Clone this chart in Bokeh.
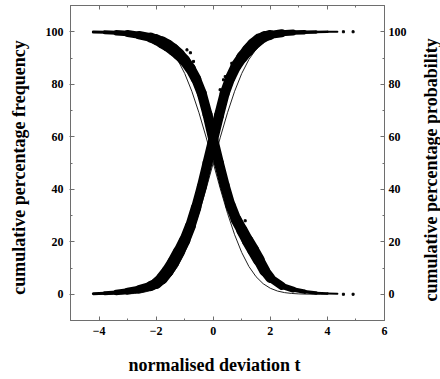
import math
from bokeh.plotting import figure
from bokeh.layouts import row
from bokeh.models import LinearAxis, FixedTicker, Range1d, Title, ColumnDataSource
from bokeh.core.properties import value
from bokeh.embed import file_html
from bokeh.resources import INLINE

# ---- data ----
x_ticks = [-4, -2, 0, 2, 4, 6]
x_minor = [-5, -3, -1, 1, 3, 5]
y_ticks = [0, 20, 40, 60, 80, 100]
y_minor = [10, 30, 50, 70, 90]

# theoretical (normal) cumulative curves, thin lines
theory_x = [-4.0, -3.75, -3.5, -3.25, -3.0, -2.75, -2.5, -2.25, -2.0, -1.75, -1.5,
            -1.25, -1.0, -0.75, -0.5, -0.25, 0.0, 0.25, 0.5, 0.75, 1.0, 1.25, 1.5,
            1.75, 2.0, 2.25, 2.5, 2.75, 3.0, 3.25, 3.5, 3.75, 4.0]
theory_rise = [0.003, 0.009, 0.023, 0.058, 0.135, 0.298, 0.621, 1.222, 2.275, 4.006,
               6.681, 10.565, 15.866, 22.663, 30.854, 40.129, 50.0, 59.871, 69.146,
               77.337, 84.134, 89.435, 93.319, 95.994, 97.725, 98.778, 99.379, 99.702,
               99.865, 99.942, 99.977, 99.991, 99.997]
theory_fall = [99.997, 99.991, 99.977, 99.942, 99.865, 99.702, 99.379, 98.778, 97.725,
               95.994, 93.319, 89.435, 84.134, 77.337, 69.146, 59.871, 50.0, 40.129,
               30.854, 22.663, 15.866, 10.565, 6.681, 4.006, 2.275, 1.222, 0.621,
               0.298, 0.135, 0.058, 0.023, 0.009, 0.003]

# observed cumulative frequencies (centre of the dense band of points)
band_x = [-4.2, -3.8, -3.4, -3.0, -2.6, -2.2, -2.0, -1.8, -1.6, -1.4, -1.2, -1.0,
          -0.8, -0.6, -0.4, -0.2, 0.0, 0.2, 0.4, 0.6, 0.8, 1.0, 1.2, 1.4, 1.6, 1.8,
          2.0, 2.4, 2.8, 3.2, 3.6, 4.0, 4.35]
rise_y = [0.2, 0.4, 0.7, 1.2, 1.9, 3.1, 4.1, 6.0, 8.8, 12.2, 16.2, 20.5, 26.0, 33.0,
          41.0, 50.0, 59.0, 68.0, 76.5, 82.5, 87.0, 90.2, 92.8, 95.2, 97.0, 98.2,
          98.8, 99.4, 99.7, 99.85, 99.9, 100.0, 100.0]
fall_y = [99.9, 99.8, 99.6, 99.3, 98.7, 97.8, 97.0, 96.0, 94.8, 93.2, 91.3, 89.0,
          86.0, 82.0, 76.5, 68.5, 59.0, 50.0, 41.5, 34.0, 28.5, 24.5, 20.5, 16.8,
          13.0, 9.0, 6.2, 3.2, 1.8, 1.0, 0.5, 0.3, 0.2]

# isolated points
rise_out_x = [0.24, 0.36, 0.42, 0.65, 4.56, 4.9]
rise_out_y = [77.9, 81.7, 82.9, 88.0, 100.0, 100.0]
fall_out_x = [-0.92, -0.8, -0.69, 1.12, 4.56, 4.9]
fall_out_y = [93.1, 92.0, 88.7, 28.0, 0.0, 0.0]

right_title = "cumulative  percentage  probability"

# band thickness (style) for each segment of the band
band_w = [3, 4, 5.5, 7, 8.5, 10, 11, 12, 12, 12, 11.5, 11, 10.5, 10, 10, 10, 10, 10,
          10, 10.5, 11, 11.5, 12, 12, 11, 10, 8, 6, 4.5, 3.5, 2.5, 2]

FONT = "Liberation Serif"
AXC = "#6e6e6e"

p = figure(frame_width=314, frame_height=315,
           x_range=Range1d(-5, 6), y_range=Range1d(-10, 110),
           output_backend="svg", toolbar_location=None,
           min_border_left=70, min_border_right=34, min_border_top=5,
           min_border_bottom=59, background_fill_color="white")
p.grid.visible = False
p.outline_line_color = AXC

p.line(theory_x, theory_rise, line_width=1, line_color="#222222")
p.line(theory_x, theory_fall, line_width=1, line_color="#222222")

for ys in (rise_y, fall_y):
    src = ColumnDataSource(dict(x0=band_x[:-1], y0=ys[:-1], x1=band_x[1:], y1=ys[1:], w=band_w))
    p.segment("x0", "y0", "x1", "y1", source=src, line_width="w",
              line_color="black", line_cap="round")

p.scatter(rise_out_x, rise_out_y, size=2, marker="square", color="black")
p.scatter(fall_out_x, fall_out_y, size=2, marker="square", color="black")

def style(ax):
    ax.axis_line_color = AXC
    ax.major_tick_line_color = AXC
    ax.minor_tick_line_color = AXC
    ax.major_tick_in = 4
    ax.major_tick_out = 1
    ax.minor_tick_in = 2
    ax.minor_tick_out = 0
    ax.major_label_text_font = FONT
    ax.major_label_text_font_style = "bold"
    ax.major_label_text_font_size = "12px"
    ax.major_label_text_color = "black"
    ax.axis_label_text_font = FONT
    ax.axis_label_text_font_style = "bold"
    ax.axis_label_text_font_size = "18px"
    ax.axis_label_text_color = "black"

bx = p.xaxis[0]
bx.ticker = FixedTicker(ticks=x_ticks, minor_ticks=x_minor)
style(bx)
bx.major_tick_out = 0
bx.major_label_standoff = 6

ly = p.yaxis[0]
ly.ticker = FixedTicker(ticks=y_ticks, minor_ticks=y_minor)
style(ly)
ly.major_label_standoff = 6
ly.axis_label = "cumulative  percentage  frequency"
ly.axis_label_standoff = 14

ry = LinearAxis(ticker=FixedTicker(ticks=y_ticks, minor_ticks=y_minor))
style(ry)
ry.major_tick_out = 0
ry.major_label_standoff = 4
p.add_layout(ry, "right")

tx = LinearAxis(ticker=FixedTicker(ticks=x_ticks, minor_ticks=x_minor))
style(tx)
tx.major_tick_out = 0
tx.major_label_text_font_size = "1px"
tx.major_label_text_color = None
tx.major_label_text_alpha = 0
tx.major_label_standoff = 0
p.add_layout(tx, "above")

bt = Title(text="normalised deviation  t", align="left", offset=58,
           text_font=FONT, text_font_size="18px", text_font_style="bold",
           text_color="black", standoff=30)
p.add_layout(bt, "below")

# narrow strip on the right carrying the right-hand title (reads bottom to top)
p2 = figure(frame_width=22, frame_height=379, x_range=Range1d(0, 1), y_range=Range1d(0, 1),
            output_backend="svg", toolbar_location=None,
            x_axis_type=None, y_axis_type=None,
            min_border_left=0, min_border_right=0, min_border_top=0, min_border_bottom=0)
p2.grid.visible = False
p2.outline_line_color = None
p2.text(x=[0.55], y=[0.578], text=[right_title], angle=math.pi / 2,
        text_align="center", text_baseline="middle",
        text_font=value(FONT), text_font_size="18px", text_font_style="bold",
        text_color="black")

layout = row(p, p2, spacing=0)
open("out.html", "w").write(file_html(layout, INLINE))
